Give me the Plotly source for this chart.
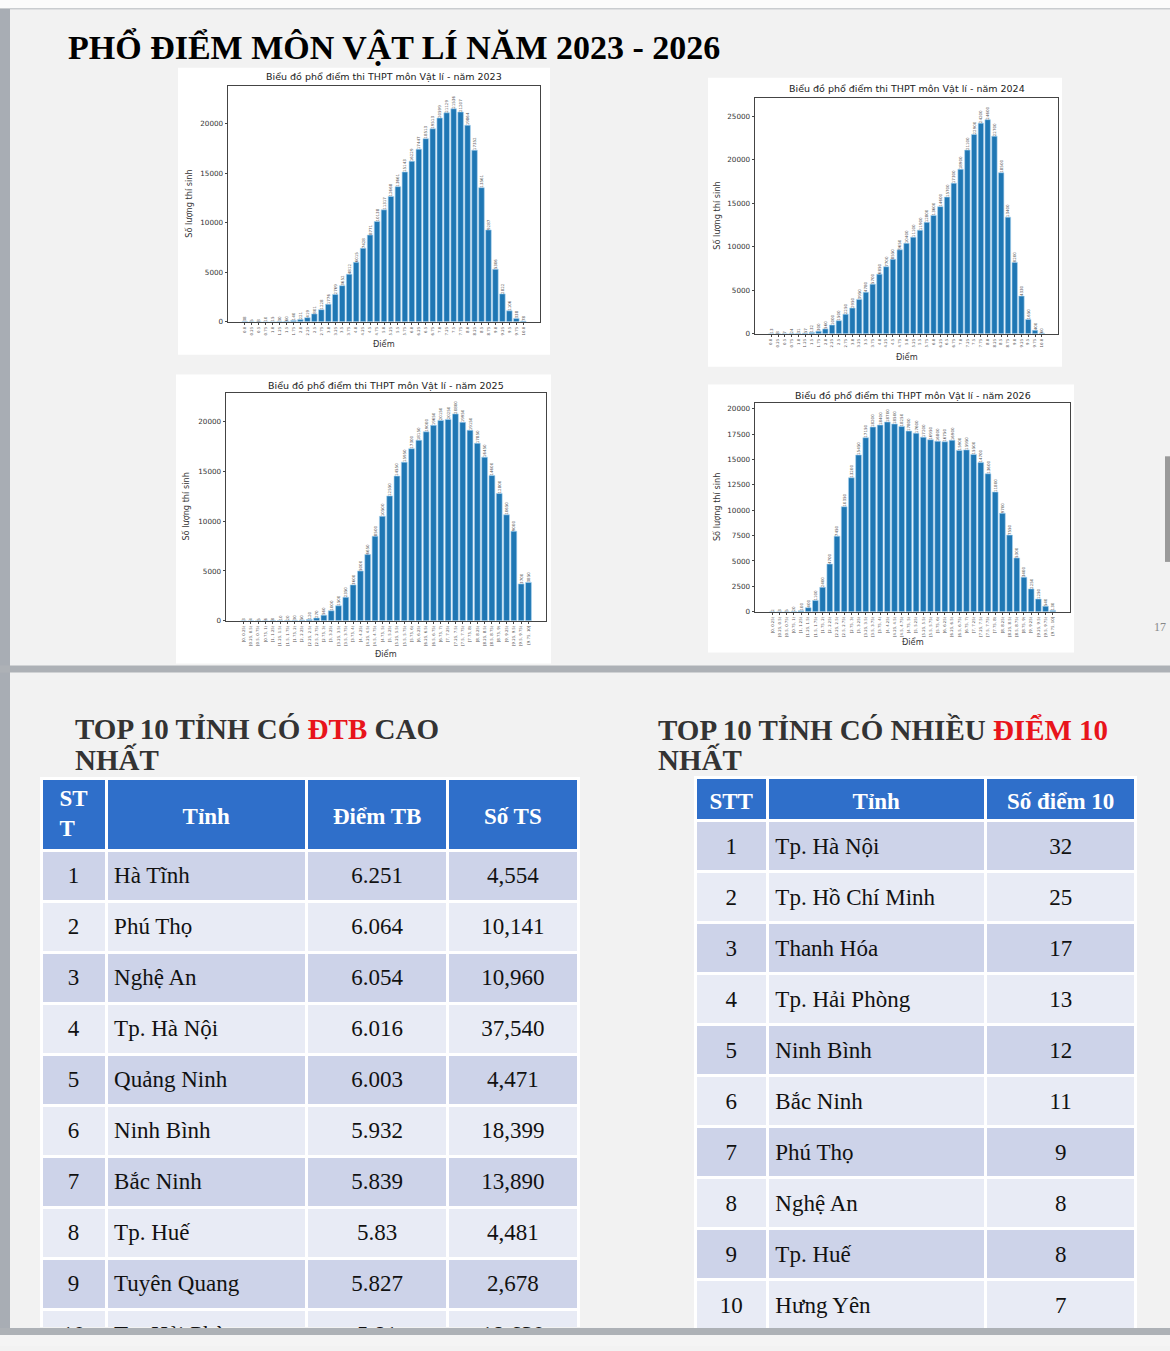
import plotly.graph_objects as go

W, H = 1170, 1351

# ---------------- data ----------------
score_labels = ["0.0", "0.25", "0.5", "0.75", "1.0", "1.25", "1.5", "1.75", "2.0", "2.25",
                "2.5", "2.75", "3.0", "3.25", "3.5", "3.75", "4.0", "4.25", "4.5", "4.75",
                "5.0", "5.25", "5.5", "5.75", "6.0", "6.25", "6.5", "6.75", "7.0", "7.25",
                "7.5", "7.75", "8.0", "8.25", "8.5", "8.75", "9.0", "9.25", "9.5", "9.75", "10.0"]

bin_labels = ["[0, 0.25)", "[0.25, 0.5)", "[0.5, 0.75)", "[0.75, 1)", "[1, 1.25)", "[1.25, 1.5)",
              "[1.5, 1.75)", "[1.75, 2)", "[2, 2.25)", "[2.25, 2.5)", "[2.5, 2.75)", "[2.75, 3)",
              "[3, 3.25)", "[3.25, 3.5)", "[3.5, 3.75)", "[3.75, 4)", "[4, 4.25)", "[4.25, 4.5)",
              "[4.5, 4.75)", "[4.75, 5)", "[5, 5.25)", "[5.25, 5.5)", "[5.5, 5.75)", "[5.75, 6)",
              "[6, 6.25)", "[6.25, 6.5)", "[6.5, 6.75)", "[6.75, 7)", "[7, 7.25)", "[7.25, 7.5)",
              "[7.5, 7.75)", "[7.75, 8)", "[8, 8.25)", "[8.25, 8.5)", "[8.5, 8.75)", "[8.75, 9)",
              "[9, 9.25)", "[9.25, 9.5)", "[9.5, 9.75)", "[9.75, 10]"]

counts_2023 = [38, 5, 8, 10, 15, 30, 60, 140, 221, 419, 801, 1228, 1776, 2769, 3652, 4812,
               6015, 7428, 8771, 10138, 11317, 12668, 13661, 15143, 16229, 17447, 18513,
               19513, 20599, 21129, 21536, 21207, 19864, 17352, 13561, 9287, 5306, 2822,
               1106, 338, 78]

counts_2024 = [13, 8, 7, 24, 31, 57, 132, 300, 560, 1000, 1500, 2250, 2950, 3950, 4780,
               5700, 6850, 7700, 8550, 9650, 10400, 11100, 11900, 12800, 13600, 14600,
               15700, 17300, 18900, 21100, 22900, 24200, 24600, 22700, 18500, 13400, 8200,
               4330, 1650, 400, 60]

counts_2025 = [3, 4, 5, 6, 8, 10, 20, 30, 50, 120, 270, 560, 1000, 1500, 2350, 3600, 5000,
               6650, 8500, 10500, 12550, 14550, 15950, 17300, 18150, 19000, 19650, 20150,
               20250, 20800, 19950, 19150, 17850, 16450, 14600, 12800, 10650, 9000, 3700, 3850]

counts_2026 = [2, 3, 5, 20, 100, 400, 1100, 2400, 4700, 7450, 10350, 13200, 15450, 17150,
               18200, 18400, 18700, 18500, 18250, 17800, 17600, 17200, 16950, 16800, 16750,
               16900, 15900, 15950, 15500, 14700, 13600, 11800, 9700, 7550, 5300, 3400, 2250,
               1250, 540, 130]

years = ["2023", "2024", "2025", "2026"]

t1_header = ["ST<br>T", "Tỉnh", "Điểm TB", "Số TS"]
t1_stt = ["1", "2", "3", "4", "5", "6", "7", "8", "9", "10"]
t1_tinh = ["Hà Tĩnh", "Phú Thọ", "Nghệ An", "Tp. Hà Nội", "Quảng Ninh", "Ninh Bình",
           "Bắc Ninh", "Tp. Huế", "Tuyên Quang", "Tp. Hải Phòng"]
t1_dtb = ["6.251", "6.064", "6.054", "6.016", "6.003", "5.932", "5.839", "5.83", "5.827", "5.81"]
t1_sots = ["4,554", "10,141", "10,960", "37,540", "4,471", "18,399", "13,890", "4,481",
           "2,678", "18,630"]

t2_header = ["STT", "Tỉnh", "Số điểm 10"]
t2_stt = ["1", "2", "3", "4", "5", "6", "7", "8", "9", "10"]
t2_tinh = ["Tp. Hà Nội", "Tp. Hồ Chí Minh", "Thanh Hóa", "Tp. Hải Phòng", "Ninh Bình",
           "Bắc Ninh", "Phú Thọ", "Nghệ An", "Tp. Huế", "Hưng Yên"]
t2_so10 = ["32", "25", "17", "13", "12", "11", "9", "8", "8", "7"]


# ---------------- helpers ----------------
def px(x):
    return x / W


def py(y):
    return 1 - y / H


fig = go.Figure()

charts = [
    dict(lab=score_labels, val=counts_2023, xd=(228, 540), yd=(86, 323), ymax=23870, dt=5000,
         ty=77, ylx=189, xly=345),
    dict(lab=score_labels, val=counts_2024, xd=(755, 1058), yd=(98, 335), ymax=27130, dt=5000,
         ty=89, ylx=717, xly=358),
    dict(lab=bin_labels, val=counts_2025, xd=(226, 546), yd=(394, 623), ymax=22950, dt=5000,
         ty=387, ylx=186, xly=656),
    dict(lab=bin_labels, val=counts_2026, xd=(755, 1070), yd=(404, 614), ymax=20620, dt=2500,
         ty=397, ylx=717, xly=644),
]

boxes = [(178, 68, 550, 356), (708, 78, 1062, 368), (176, 376, 551, 666), (708, 386, 1074, 655)]

shapes = []
shapes.append(dict(type="rect", xref="paper", yref="paper", x0=0, x1=1, y0=py(8), y1=1,
                   fillcolor="#fbfbfb", line_width=0, layer="below"))
shapes.append(dict(type="rect", xref="paper", yref="paper", x0=0, x1=1, y0=py(9.5), y1=py(8),
                   fillcolor="#c9cccf", line_width=0, layer="below"))
shapes.append(dict(type="rect", xref="paper", yref="paper", x0=0, x1=px(10), y0=py(1334), y1=py(9),
                   fillcolor="#a8adb4", line_width=0, layer="below"))
shapes.append(dict(type="rect", xref="paper", yref="paper", x0=0, x1=1, y0=py(675), y1=py(668),
                   fillcolor="#adb1b6", line_width=0, layer="below"))
shapes.append(dict(type="rect", xref="paper", yref="paper", x0=0, x1=1, y0=0, y1=py(1340),
                   fillcolor="#f4f4f4", line_width=0, layer="above"))
shapes.append(dict(type="rect", xref="paper", yref="paper", x0=0, x1=1, y0=py(1340), y1=py(1333),
                   fillcolor="#adb1b6", line_width=0, layer="above"))
shapes.append(dict(type="rect", xref="paper", yref="paper", x0=px(1165), x1=1, y0=py(564), y1=py(458),
                   fillcolor="#9a9a9a", line_width=0, layer="below"))
for (x0, y0, x1, y1) in boxes:
    shapes.append(dict(type="rect", xref="paper", yref="paper", x0=px(x0), x1=px(x1),
                       y0=py(y1), y1=py(y0), fillcolor="white", line_width=0, layer="below"))

annotations = []
mpl_font = "DejaVu Sans"

for k, c in enumerate(charts):
    sfx = "" if k == 0 else str(k + 1)
    xa, ya = "x" + sfx, "y" + sfx
    n = len(c["lab"])
    fig.add_trace(go.Bar(
        x=c["lab"], y=c["val"], xaxis=xa, yaxis=ya,
        marker=dict(color="#1f77b4", line=dict(color="#a9d3f0", width=0.6)),
        width=0.8,
        text=c["val"], texttemplate="%{text}", textposition="outside", textangle=-90,
        constraintext="none", cliponaxis=False,
        textfont=dict(size=4, color="#555555", family=mpl_font),
        showlegend=False, hoverinfo="x+y",
    ))
    axis_common = dict(showline=True, linecolor="#444444", linewidth=0.8, mirror=True,
                       showgrid=False, zeroline=False, ticks="outside", ticklen=2.5,
                       tickcolor="#444444", tickwidth=0.6)
    fig.layout["xaxis" + sfx] = dict(
        domain=[px(c["xd"][0]), px(c["xd"][1])], anchor=ya, type="category",
        range=[-2.4, n - 1 + 2.4], tickmode="array", tickvals=c["lab"], ticktext=c["lab"],
        tickangle=-90, tickfont=dict(size=3.9, color="#555555", family=mpl_font),
        fixedrange=True, **axis_common)
    fig.layout["yaxis" + sfx] = dict(
        domain=[py(c["yd"][1]), py(c["yd"][0])], anchor=xa, range=[0, c["ymax"]],
        tickmode="linear", tick0=0, dtick=c["dt"], tickformat="d",
        tickfont=dict(size=7.2, color="#333333", family=mpl_font),
        fixedrange=True, **axis_common)
    xc = (c["xd"][0] + c["xd"][1]) / 2
    annotations.append(dict(xref="paper", yref="paper", x=px(xc), y=py(c["ty"]),
                            text="Biểu đồ phổ điểm thi THPT môn Vật lí - năm " + years[k],
                            showarrow=False, xanchor="center", yanchor="middle",
                            font=dict(family=mpl_font, size=9.5, color="#222222")))
    annotations.append(dict(xref="paper", yref="paper", x=px(c["ylx"]),
                            y=py((c["yd"][0] + c["yd"][1]) / 2),
                            text="Số lượng thí sinh", textangle=-90, showarrow=False,
                            xanchor="center", yanchor="middle",
                            font=dict(family=mpl_font, size=8.2, color="#333333")))
    annotations.append(dict(xref="paper", yref="paper", x=px(xc), y=py(c["xly"]),
                            text="Điểm", showarrow=False, xanchor="center", yanchor="middle",
                            font=dict(family=mpl_font, size=8.2, color="#333333")))

# ---------------- titles ----------------
serif = "Liberation Serif"
red = "#e8141b"
annotations.append(dict(xref="paper", yref="paper", x=px(66), y=py(47),
                        text="<b>PHỔ ĐIỂM MÔN VẬT LÍ NĂM 2023 - 2026</b>", showarrow=False,
                        xanchor="left", yanchor="middle",
                        font=dict(family=serif, size=34, color="#000000")))
annotations.append(dict(xref="paper", yref="paper", x=px(73), y=py(732),
                        text="<b>TOP 10 TỈNH CÓ <span style='color:%s'>ĐTB</span> CAO</b>" % red,
                        showarrow=False, xanchor="left", yanchor="middle",
                        font=dict(family=serif, size=29, color="#333333")))
annotations.append(dict(xref="paper", yref="paper", x=px(73), y=py(762),
                        text="<b>NHẤT</b>", showarrow=False, xanchor="left", yanchor="middle",
                        font=dict(family=serif, size=29, color="#333333")))
annotations.append(dict(xref="paper", yref="paper", x=px(656), y=py(732),
                        text="<b>TOP 10 TỈNH CÓ NHIỀU <span style='color:%s'>ĐIỂM 10</span></b>" % red,
                        showarrow=False, xanchor="left", yanchor="middle",
                        font=dict(family=serif, size=29, color="#333333")))
annotations.append(dict(xref="paper", yref="paper", x=px(656), y=py(762),
                        text="<b>NHẤT</b>", showarrow=False, xanchor="left", yanchor="middle",
                        font=dict(family=serif, size=29, color="#333333")))
annotations.append(dict(xref="paper", yref="paper", x=px(1168), y=py(629),
                        text="17", showarrow=False, xanchor="right", yanchor="middle",
                        font=dict(family=serif, size=12, color="#888888")))

# ---------------- tables ----------------
hdr_blue = "#2f6fca"
row_dark = "#cdd3e9"
row_light = "#e8ebf5"
clear = "rgba(0,0,0,0)"
rows1 = [row_dark if i % 2 == 0 else row_light for i in range(len(t1_stt))]
rows2 = [row_dark if i % 2 == 0 else row_light for i in range(len(t2_stt))]


def add_table(header, cols, colwidths, x0, x1, top, bottom, hdr_h, row_h,
              hdr_shift, cell_shift, aligns, rows, base_hdr_visible):
    nc = len(cols)
    base_hdr = ["<b>%s</b>" % v if vis else "" for v, vis in zip(header, base_hdr_visible)]
    top_hdr = ["" if vis else "<b>%s</b>" % v for v, vis in zip(header, base_hdr_visible)]
    blank_cols = [[""] * len(col) for col in cols]
    # base layer: header fill, cell fills and white grid
    fig.add_trace(go.Table(
        domain=dict(x=[px(x0), px(x1)], y=[py(bottom), py(top)]),
        columnwidth=colwidths,
        header=dict(values=base_hdr, fill_color=hdr_blue,
                    line=dict(color="white", width=3), height=hdr_h, align="center",
                    font=dict(family=serif, size=23, color="white")),
        cells=dict(values=blank_cols, fill_color=[rows] * nc, line=dict(color="white", width=3),
                   height=row_h, align=aligns, font=dict(family=serif, size=23, color=clear)),
    ))
    # text layer, nudged down so the text sits centred in the cells
    fig.add_trace(go.Table(
        domain=dict(x=[px(x0), px(x1)], y=[py(bottom + 8), py(top + hdr_shift)]),
        columnwidth=colwidths,
        header=dict(values=top_hdr, fill_color=clear, line=dict(color=clear, width=3),
                    height=hdr_h + cell_shift - hdr_shift, align="center",
                    font=dict(family=serif, size=23, color="white")),
        cells=dict(values=cols, fill_color=clear, line=dict(color=clear, width=3),
                   height=row_h, align=aligns,
                   font=dict(family=serif, size=23, color="#111111")),
    ))


add_table(t1_header, [t1_stt, t1_tinh, t1_dtb, t1_sots], [65, 200, 141, 130],
          41, 578, 781, 1333, 72, 51, 18, 8, ["center", "left", "center", "center"],
          rows1, [True, False, False, False])
add_table(t2_header, [t2_stt, t2_tinh, t2_so10], [72, 217, 150],
          695, 1136, 780, 1334, 43, 51, 4, 8.5, ["center", "left", "center"],
          rows2, [False, False, False])

fig.update_layout(
    width=W, height=H, margin=dict(l=0, r=0, t=0, b=0),
    paper_bgcolor="#f2f2f2", plot_bgcolor="white",
    shapes=shapes, annotations=annotations, showlegend=False, bargap=0.2,
)

fig.write_html("out.html")
